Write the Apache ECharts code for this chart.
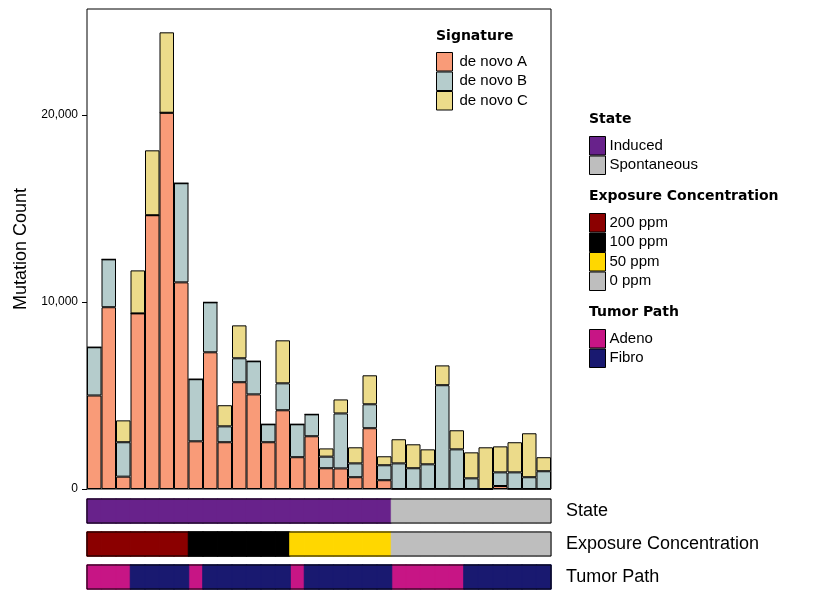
<!DOCTYPE html>
<html lang="en" style="height: 100%">
<head>
  <meta charset="utf-8">
</head>
<body style="height: 100%; margin: 0; background: #fff">
  <div id="container" style="width: 826px; height: 608px"></div>

  <script src="https://fastly.jsdelivr.net/npm/echarts@6/dist/echarts.min.js" type="text/javascript"></script>

  <script>
    // samples
    var samples = [];
    for (var i = 1; i <= 32; i++) samples.push('S' + i);

    // signature counts per sample
    var denovoA = [5000, 9720, 660, 9390, 14640, 20120, 11050, 2550, 7310, 2500, 5710, 5060, 2500, 4210, 1700, 2820,
                   1110, 1100, 630, 3250, 470, 0, 0, 0, 0, 0, 0, 0, 160, 0, 0, 0];
    var denovoB = [2580, 2560, 1840, 0, 0, 0, 5300, 3320, 2670, 850, 1280, 1770, 960, 1440, 1760, 1170,
                   620, 2940, 740, 1280, 800, 1370, 1110, 1320, 5550, 2120, 570, 0, 730, 890, 630, 950];
    var denovoC = [0, 0, 1170, 2300, 3470, 4300, 0, 0, 0, 1130, 1760, 0, 0, 2300, 0, 0,
                   440, 750, 860, 1550, 480, 1290, 1280, 800, 1060, 1020, 1390, 2230, 1390, 1610, 2350, 750];

    // annotation tracks
    var state = ['Induced', 'Induced', 'Induced', 'Induced', 'Induced', 'Induced', 'Induced', 'Induced',
                 'Induced', 'Induced', 'Induced', 'Induced', 'Induced', 'Induced', 'Induced', 'Induced',
                 'Induced', 'Induced', 'Induced', 'Induced', 'Induced', 'Spontaneous', 'Spontaneous', 'Spontaneous',
                 'Spontaneous', 'Spontaneous', 'Spontaneous', 'Spontaneous', 'Spontaneous', 'Spontaneous', 'Spontaneous', 'Spontaneous'];
    var exposure = ['200 ppm', '200 ppm', '200 ppm', '200 ppm', '200 ppm', '200 ppm', '200 ppm',
                    '100 ppm', '100 ppm', '100 ppm', '100 ppm', '100 ppm', '100 ppm', '100 ppm',
                    '50 ppm', '50 ppm', '50 ppm', '50 ppm', '50 ppm', '50 ppm', '50 ppm',
                    '0 ppm', '0 ppm', '0 ppm', '0 ppm', '0 ppm', '0 ppm', '0 ppm', '0 ppm', '0 ppm', '0 ppm', '0 ppm'];
    var tumorPath = ['Adeno', 'Adeno', 'Adeno', 'Fibro', 'Fibro', 'Fibro', 'Fibro', 'Adeno',
                     'Fibro', 'Fibro', 'Fibro', 'Fibro', 'Fibro', 'Fibro', 'Adeno', 'Fibro',
                     'Fibro', 'Fibro', 'Fibro', 'Fibro', 'Fibro', 'Adeno', 'Adeno', 'Adeno',
                     'Adeno', 'Adeno', 'Fibro', 'Fibro', 'Fibro', 'Fibro', 'Fibro', 'Fibro'];

    var stateLevels = ['Induced', 'Spontaneous'];
    var exposureLevels = ['200 ppm', '100 ppm', '50 ppm', '0 ppm'];
    var tumorLevels = ['Adeno', 'Fibro'];
    var yTicks = [0, 10000, 20000];

    var stateColors = ['#68228B', '#BEBEBE'];
    var exposureColors = ['#8B0000', '#000000', '#FFD700', '#BEBEBE'];
    var tumorColors = ['#C71585', '#191970'];
    var sigColors = ['#F99B78', '#B5CCCC', '#ECDB8A'];

    var font = 'Liberation Sans, Arial, sans-serif';
    var titleFont = 'DejaVu Sans, sans-serif';

    var dom = document.getElementById('container');
    var myChart = echarts.init(dom, null, { renderer: 'canvas' });

    function bar(name, values, color) {
      return {
        name: name,
        type: 'bar',
        stack: 'sig',
        data: values,
        barCategoryGap: 0,
        itemStyle: { color: color, borderColor: '#000', borderWidth: 1 }
      };
    }

    // one heatmap series per level so the legends come from the tracks
    function track(values, levels, colors, idx) {
      return levels.map(function (lv, k) {
        var cells = [];
        values.forEach(function (v, i) { if (v === lv) cells.push([i, 0, 1]); });
        return {
          name: lv,
          type: 'heatmap',
          xAxisIndex: idx,
          yAxisIndex: idx,
          data: cells,
          itemStyle: { color: colors[k], borderColor: colors[k], borderWidth: 1 },
          emphasis: { disabled: true }
        };
      });
    }

    function trackAxes(label, idx) {
      return {
        x: { type: 'category', gridIndex: idx, data: samples, show: false },
        y: {
          type: 'category', gridIndex: idx, data: [label], position: 'right',
          axisLine: { show: false }, axisTick: { show: false },
          axisLabel: { fontSize: 18, color: '#000', fontFamily: font, margin: 15 }
        }
      };
    }

    var tracks = [trackAxes('State', 1), trackAxes('Exposure Concentration', 2), trackAxes('Tumor Path', 3)];

    function boxGrid(top) {
      return { left: 87, top: top, width: 464, height: 24, show: true, z: 10,
               borderColor: '#000', borderWidth: 1 };
    }

    function legendBox(names, top, left) {
      return {
        data: names, orient: 'vertical', left: left, top: top, padding: 0,
        icon: 'rect', itemWidth: 16, itemHeight: 18.5, itemGap: 0,
        itemStyle: { borderColor: '#000', borderWidth: 1 },
        textStyle: { fontSize: 15, color: '#000', fontFamily: font, padding: [0, 0, 0, -1] },
        selectedMode: false
      };
    }

    function heading(text, left, top) {
      return { text: text, left: left, top: top, padding: 0,
               textStyle: { fontSize: 14, fontWeight: 'bold', color: '#000', fontFamily: titleFont } };
    }

    var option = {
      animation: false,
      backgroundColor: '#fff',
      title: [
        heading('Signature', 436, 29),
        heading('State', 589, 112),
        heading('Exposure Concentration', 589, 189),
        heading('Tumor Path', 589, 305)
      ],
      legend: [
        Object.assign(legendBox(['de novo A', 'de novo B', 'de novo C'], 52, 436), {
          textStyle: { fontSize: 15, color: '#000', fontFamily: font, padding: [0, 0, 0, 2] }
        }),
        legendBox(stateLevels, 136, 589),
        legendBox(exposureLevels, 213, 589),
        legendBox(tumorLevels, 329, 589)
      ],
      grid: [
        { left: 87, top: 9, width: 464, height: 480, show: true, borderColor: '#000', borderWidth: 1 },
        boxGrid(499),
        boxGrid(532),
        boxGrid(565)
      ],
      xAxis: [
        { type: 'category', gridIndex: 0, data: samples, axisLine: { show: false },
          axisTick: { show: false }, axisLabel: { show: false } },
        tracks[0].x, tracks[1].x, tracks[2].x
      ],
      yAxis: [
        {
          type: 'value', gridIndex: 0, min: yTicks[0], max: 25668, interval: 10000,
          name: 'Mutation Count', nameLocation: 'middle', nameGap: 55,
          nameTextStyle: { fontSize: 18, color: '#000', fontFamily: font },
          axisLine: { show: false },
          axisTick: { show: true, length: 5, lineStyle: { color: '#000' }, customValues: yTicks },
          splitLine: { show: false },
          axisLabel: {
            fontSize: 12, color: '#000', fontFamily: font, margin: 9, customValues: yTicks,
            formatter: function (v) { return yTicks.indexOf(v) >= 0 ? v.toLocaleString('en-US') : ''; }
          }
        },
        tracks[0].y, tracks[1].y, tracks[2].y
      ],
      series: [
        bar('de novo A', denovoA, sigColors[0]),
        bar('de novo B', denovoB, sigColors[1]),
        bar('de novo C', denovoC, sigColors[2])
      ].concat(track(state, stateLevels, stateColors, 1))
       .concat(track(exposure, exposureLevels, exposureColors, 2))
       .concat(track(tumorPath, tumorLevels, tumorColors, 3))
    };

    myChart.setOption(option);
    window.addEventListener('resize', myChart.resize);
  </script>
</body>
</html>
